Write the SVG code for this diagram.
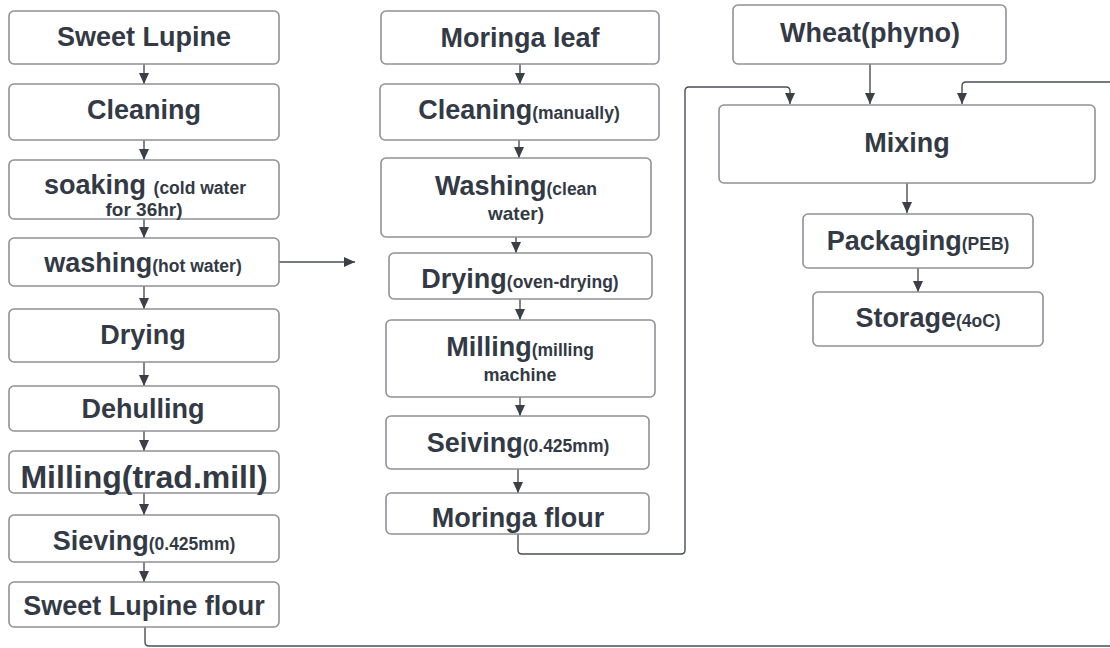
<svg xmlns="http://www.w3.org/2000/svg" width="1110" height="648" viewBox="0 0 1110 648">
<defs>
<marker id="ah" markerUnits="userSpaceOnUse" markerWidth="11" markerHeight="11" refX="11" refY="5.5" orient="auto" viewBox="0 0 11 11">
<path d="M0,0.5 L11,5.5 L0,10.5 z" fill="#3b3f47"/>
</marker>
<style>
.b{fill:#ffffff;stroke:#8e9196;stroke-width:1.6}
.t{font-family:"Liberation Sans",Arial,sans-serif;font-weight:bold;fill:#333a45;text-anchor:middle;font-size:27px}
.s{font-size:17.5px}
.c{fill:none;stroke:#6f737a;stroke-width:1.4}
.a{fill:none;stroke:#4a4e55;stroke-width:1.4;marker-end:url(#ah)}
</style>
</defs>
<rect width="1110" height="648" fill="#ffffff"/>
<g id="connectors">
<path class="a" d="M144,64 V84"/>
<path class="a" d="M144,140 V160"/>
<path class="a" d="M144,219 V238"/>
<path class="a" d="M144,286 V309"/>
<path class="a" d="M144,362 V386"/>
<path class="a" d="M144,431 V451"/>
<path class="a" d="M144,493 V515"/>
<path class="a" d="M144,562 V582"/>
<path class="a" d="M279,262 H355"/>
<path class="a" d="M520,64 V84"/>
<path class="a" d="M519,140 V158"/>
<path class="a" d="M516,237 V253"/>
<path class="a" d="M520,299 V320"/>
<path class="a" d="M520,397 V416"/>
<path class="a" d="M518,469 V493"/>
<path class="a" d="M518,534 V550 Q518,554 522,554 H681 Q685,554 685,550 V91 Q685,87 689,87 H786 Q790,87 790,91 V104"/>
<path class="a" d="M145,627 V642 Q145,646 149,646 H1112 V82 H966 Q962,82 962,86 V104"/>
<path class="a" d="M870,64 V104"/>
<path class="a" d="M907,183 V213"/>
<path class="a" d="M918,268 V292"/>
</g>
<g id="n1"><rect class="b" x="9" y="11" width="270" height="53" rx="5"/><text class="t" x="144" y="46">Sweet Lupine</text></g>
<g id="n2"><rect class="b" x="9" y="84" width="270" height="56" rx="5"/><text class="t" x="144" y="118.5">Cleaning</text></g>
<g id="n3"><rect class="b" x="9" y="160" width="270" height="59" rx="5"/><text class="t" x="145" y="194">soaking <tspan class="s" font-size="19">(cold water</tspan></text><text class="t s" x="144" y="216" style="font-size:19px">for 36hr)</text></g>
<g id="n4"><rect class="b" x="9" y="238" width="270" height="48" rx="5"/><text class="t" x="143" y="272">washing<tspan class="s">(hot water)</tspan></text></g>
<g id="n5"><rect class="b" x="9" y="309" width="270" height="53" rx="5"/><text class="t" x="143" y="343.5">Drying</text></g>
<g id="n6"><rect class="b" x="9" y="386" width="270" height="45" rx="5"/><text class="t" x="143" y="417.5">Dehulling</text></g>
<g id="n7"><rect class="b" x="9" y="451" width="270" height="42" rx="5"/><text class="t" x="144" y="488" style="font-size:32px">Milling(trad.mill)</text></g>
<g id="n8"><rect class="b" x="9" y="515" width="270" height="47" rx="5"/><text class="t" x="144" y="549.5">Sieving<tspan class="s">(0.425mm)</tspan></text></g>
<g id="n9"><rect class="b" x="9" y="582" width="270" height="45" rx="5"/><text class="t" x="144" y="614.5">Sweet Lupine flour</text></g>
<g id="m1"><rect class="b" x="381" y="11" width="278" height="53" rx="5"/><text class="t" x="520" y="46.5">Moringa leaf</text></g>
<g id="m2"><rect class="b" x="380" y="84" width="279" height="56" rx="5"/><text class="t" x="519" y="119">Cleaning<tspan class="s">(manually)</tspan></text></g>
<g id="m3"><rect class="b" x="381" y="158" width="270" height="79" rx="5"/><text class="t" x="516" y="195">Washing<tspan class="s" font-size="19">(clean</tspan></text><text class="t s" x="516" y="220" style="font-size:19px">water)</text></g>
<g id="m4"><rect class="b" x="389" y="253" width="263" height="46" rx="5"/><text class="t" x="520" y="288">Drying<tspan class="s">(oven-drying)</tspan></text></g>
<g id="m5"><rect class="b" x="386" y="320" width="269" height="77" rx="5"/><text class="t" x="520" y="356">Milling<tspan class="s" font-size="19">(milling</tspan></text><text class="t s" x="520" y="381" style="font-size:18px">machine</text></g>
<g id="m6"><rect class="b" x="386" y="416" width="263" height="53" rx="5"/><text class="t" x="518" y="452">Seiving<tspan class="s">(0.425mm)</tspan></text></g>
<g id="m7"><rect class="b" x="386" y="493" width="263" height="41" rx="5"/><text class="t" x="518" y="526.5">Moringa flour</text></g>
<g id="w1"><rect class="b" x="733" y="5" width="273" height="59" rx="5"/><text class="t" x="870" y="41.5">Wheat(phyno)</text></g>
<g id="w2"><rect class="b" x="719" y="105" width="376" height="78" rx="5"/><text class="t" x="907" y="151.5">Mixing</text></g>
<g id="w3"><rect class="b" x="803" y="214" width="230" height="54" rx="5"/><text class="t" x="918" y="250">Packaging<tspan class="s">(PEB)</tspan></text></g>
<g id="w4"><rect class="b" x="813" y="292" width="230" height="54" rx="5"/><text class="t" x="928" y="327">Storage<tspan class="s">(4oC)</tspan></text></g>
</svg>
